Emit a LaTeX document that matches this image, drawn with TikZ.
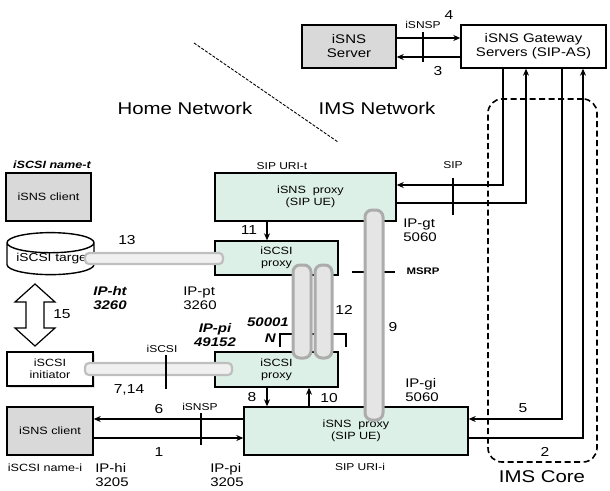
\documentclass[tikz,border=0pt]{standalone}
\usepackage{fontspec}
\setmainfont{Liberation Sans}[FakeStretch=1.2]
\usetikzlibrary{arrows.meta,positioning,shapes.geometric,shadows}
\definecolor{proxyfill}{HTML}{DCF0E7}
\definecolor{hostfill}{HTML}{D9D9D9}

\begin{document}
\begin{tikzpicture}[x=1pt, y=-1pt,
    box/.style={draw, line width=1.4pt, align=center, inner sep=0pt, font=\fontsize{10.5}{12}\selectfont},
    host/.style={box, fill=hostfill},
    proxy/.style={box, fill=proxyfill},
    hpipe/.style={draw=gray!50, line width=2.2pt, fill=gray!12, rounded corners=4pt, inner sep=0pt},
    vpipe/.style={draw=gray!65, line width=3pt, fill=gray!20, rounded corners=7pt, inner sep=0pt},
    msg/.style={-{Stealth[length=7pt,width=6pt]}, line width=1.2pt},
    tick/.style={line width=1.2pt},
    num/.style={font=\fontsize{13}{15}\selectfont, inner sep=0pt},
    lbl/.style={font=\fontsize{12.5}{14}\selectfont, align=left, inner sep=0pt},
    bilbl/.style={font=\fontsize{12.5}{14}\selectfont\bfseries\itshape, align=center, inner sep=0pt},
    small/.style={font=\fontsize{10}{12}\selectfont, inner sep=0pt},
    big/.style={font=\fontsize{17}{19}\selectfont, inner sep=0pt}
]
\useasboundingbox (0,0) rectangle (610,490);

% IMS core area
\node[draw, dashed, line width=1.6pt, dash pattern=on 6pt off 3.5pt, rounded corners=14pt,
      minimum width=109pt, minimum height=363pt] (core) at (542.5,280.5) {};
\node[big] (corelbl) at (542,477) {IMS Core};

% network split
\draw[dashed, line width=0.9pt, dash pattern=on 3pt off 1.5pt] (194,43) -- (338,142);
\node[big] (home) at (185,108) {Home Network};
\node[big] (ims) at (377,108) {IMS Network};

% server side
\node[host, minimum width=94pt, minimum height=43pt, font=\fontsize{12.5}{14}\selectfont] (srv) at (349,46.5) {iSNS\\Server};
\node[box, minimum width=145pt, minimum height=43pt, font=\fontsize{12.5}{14}\selectfont] (gw) at (533.5,46.5) {iSNS Gateway\\Servers (SIP-AS)};

% proxies
\node[proxy, minimum width=181pt, minimum height=48pt] (proxyt) at (305.5,197) {\hspace{10pt}iSNS\ \ proxy\\\hspace{10pt}(SIP UE)};
\node[proxy, minimum width=123pt, minimum height=34pt] (scsit) at (276.5,258) {iSCSI\\proxy};
\node[proxy, minimum width=123pt, minimum height=35pt] (scsii) at (276.5,369.5) {iSCSI\\proxy};
\node[proxy, minimum width=224pt, minimum height=48pt] (proxyi) at (356,431) {iSNS\ \ proxy\\(SIP UE)};

% home hosts
\node[host, minimum width=85pt, minimum height=48pt] (clientt) at (48.5,197) {iSNS client};
\node[cylinder, shape border rotate=90, aspect=0.25, draw, line width=1.4pt, fill=white,
      minimum width=87pt, minimum height=42pt, inner sep=0pt, font=\fontsize{11.5}{13}\selectfont] (target) at (50.5,259) {\hspace{6pt}iSCSI target};
\node[box, fill=white, minimum width=86pt, minimum height=34pt,
      drop shadow={shadow xshift=2pt, shadow yshift=-2pt, fill=gray!45}] (init) at (50,369) {iSCSI\\initiator};
\node[host, minimum width=86pt, minimum height=48pt] (clienti) at (50,431) {iSNS client};

% message flows
\draw[msg] (srv.east |- 0,38) -- (gw.west |- 0,38);
\draw[msg] (gw.west |- 0,57) -- (srv.east |- 0,57);
\draw[msg] (gw.south -| 503,0) |- (proxyt.east |- 0,185);
\draw[msg] (proxyt.east |- 0,203) -| (gw.south -| 526,0);
\draw[msg] (gw.south -| 562,0) |- (proxyi.east |- 0,419);
\draw[msg] (proxyi.east |- 0,438) -| (gw.south -| 583,0);
\draw[msg] (proxyt.south -| 267,0) -- (scsit.north -| 267,0);
\draw[msg] (scsii.south -| 267,0) -- (proxyi.north -| 267,0);
\draw[msg] (proxyi.north -| 309,0) -- (scsii.south -| 309,0);
\draw[msg] (proxyi.west |- 0,419) -- (clienti.east |- 0,419);
\draw[msg] (clienti.east |- 0,438) -- (proxyi.west |- 0,438);

% protocol ticks
\draw[tick] (423,32) -- (423,62);
\draw[tick] (453,178) -- (453,215);
\draw[tick] (201,413) -- (201,445);
\draw[tick] (352,272) -- (395,272);
\draw[tick] (280,347) -- (280,334) -- (346,334) -- (346,347);

% transport pipes
\node[hpipe, minimum width=138pt, minimum height=11pt] (pipe13) at (154,258.5) {};
\node[hpipe, minimum width=147pt, minimum height=12pt] (pipe714) at (158.5,369) {};
\draw[tick] (166,355) -- (166,389);
\node[vpipe, minimum width=18pt, minimum height=93pt] (pipe12a) at (302,311.5) {};
\node[vpipe, minimum width=17pt, minimum height=93pt] (pipe12b) at (323.5,311.5) {};
\node[vpipe, minimum width=18pt, minimum height=210pt] (pipe9) at (374,315) {};

% local link
\draw[line width=1.2pt, fill=white] (35,284) -- (55,302) -- (44,302) -- (44,328) -- (55,328)
    -- (35,346) -- (15,328) -- (26,328) -- (26,302) -- (15,302) -- cycle;

% step numbers
\node[num] (n1) at (159,452) {1};
\node[num] (n2) at (545,452) {2};
\node[num] (n3) at (438,71) {3};
\node[num] (n4) at (449,15) {4};
\node[num] (n5) at (523,408) {5};
\node[num] (n6) at (159,409) {6};
\node[num] (n714) at (129,390) {7,14};
\node[num] (n8) at (252,397) {8};
\node[num] (n9) at (393,327) {9};
\node[num] (n10) at (329,398) {10};
\node[num] (n11) at (249,230) {11};
\node[num] (n12) at (344,310) {12};
\node[num] (n13) at (127,240) {13};
\node[num] (n15) at (62,314) {15};

% protocol and address labels
\node[small] (isnsp1) at (423,25) {iSNSP};
\node[small] (sip) at (453,165) {SIP};
\node[small] (isnsp2) at (200,407) {iSNSP};
\node[small] (iscsi) at (162,349) {iSCSI};
\node[small, font=\fontsize{9.5}{11}\selectfont\bfseries] (msrp) at (423,271) {MSRP};
\node[small] (urit) at (282,166) {SIP URI-t};
\node[small] (urii) at (360,467) {SIP URI-i};
\node[small, font=\fontsize{10.5}{12}\selectfont\bfseries\itshape] (namet) at (52,165) {iSCSI name-t};
\node[small, font=\fontsize{10.5}{12}\selectfont] (namei) at (45,468) {iSCSI name-i};
\node[bilbl] (ipht) at (110,298) {IP-ht\\3260};
\node[lbl] (ippt) at (200,298) {IP-pt\\3260};
\node[bilbl] (ippi1) at (215,335) {IP-pi\\49152};
\node[bilbl, anchor=east] (port) at (289,322) {50001};
\node[bilbl, anchor=east] (portn) at (276,338) {N};
\node[lbl] (iphi) at (112,475) {IP-hi\\3205};
\node[lbl] (ippi2) at (227,475) {IP-pi\\3205};
\node[lbl] (ipgt) at (420,230) {IP-gt\\5060};
\node[lbl] (ipgi) at (422,390) {IP-gi\\5060};
\end{tikzpicture}
\end{document}
